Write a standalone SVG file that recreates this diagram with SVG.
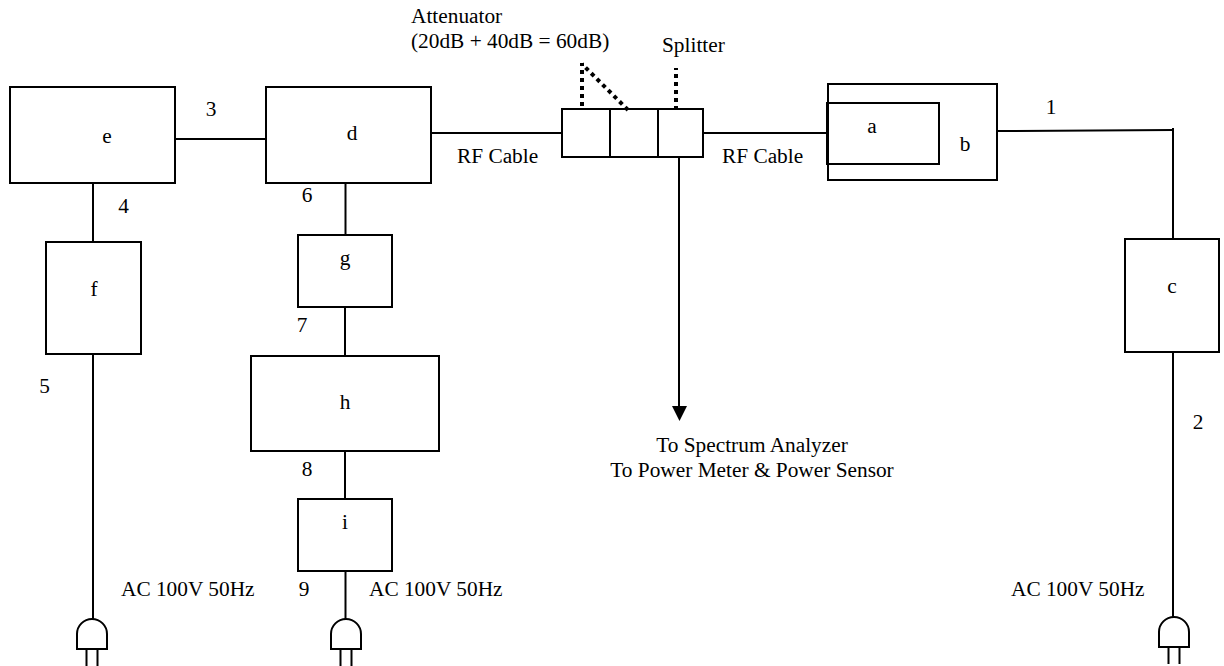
<svg xmlns="http://www.w3.org/2000/svg" width="1224" height="666" viewBox="0 0 1224 666">
<defs>
<style>
rect.n{fill:none;stroke:#000;stroke-width:2}
.c line{fill:none;stroke:#000;stroke-width:2}
.c line.dot{stroke-width:4;stroke-dasharray:4 4}
.c path{fill:#000;stroke:none}
text{font-family:"Liberation Serif","Times New Roman",serif;font-size:21.33px;fill:#000}
.m{text-anchor:middle}
</style>
<symbol id="plug" overflow="visible"><path d="M-15,15V0A15,15 0 0 1 15,0V15ZM-5.500,15V32M5.500,15V32" fill="none" stroke="#000" stroke-width="2"/></symbol>
</defs>
<rect width="1224" height="666" fill="#fff"/>
<g class="c" id="connectors">
<line x1="175" y1="139" x2="266" y2="139"/>
<line x1="93" y1="183" x2="93" y2="242"/>
<line x1="93" y1="354" x2="93" y2="619"/>
<line x1="345.500" y1="183" x2="345.500" y2="235"/>
<line x1="345" y1="307" x2="345" y2="356"/>
<line x1="345" y1="451" x2="345" y2="499"/>
<line x1="345.500" y1="571" x2="345.500" y2="619"/>
<line x1="431" y1="133" x2="562" y2="133"/>
<line x1="704" y1="133" x2="827" y2="133"/>
<line x1="679" y1="157" x2="679" y2="410"/>
<path d="M672,406H687L679.500,421Z"/>
<line x1="997" y1="131" x2="1173" y2="130"/>
<line x1="1173" y1="128" x2="1173" y2="239"/>
<line x1="1173" y1="352" x2="1173" y2="617"/>
<line class="dot" x1="582" y1="106" x2="582" y2="63"/>
<line class="dot" x1="628" y1="110" x2="582" y2="64"/>
<line class="dot" x1="676" y1="110" x2="676" y2="68"/>
</g>
<g id="e"><rect class="n" x="10" y="87" width="165" height="96"/><text class="m" x="107" y="143">e</text></g>
<g id="d"><rect class="n" x="266" y="87" width="165" height="96"/><text class="m" x="352" y="140">d</text></g>
<g id="f"><rect class="n" x="46" y="242" width="95" height="112"/><text class="m" x="94" y="296">f</text></g>
<g id="g"><rect class="n" x="298" y="235" width="94" height="72"/><text class="m" x="345" y="265">g</text></g>
<g id="h"><rect class="n" x="251" y="356" width="188" height="95"/><text class="m" x="345" y="409">h</text></g>
<g id="i"><rect class="n" x="298" y="499" width="94" height="72"/><text class="m" x="345" y="529">i</text></g>
<g id="attenuator-1"><rect class="n" x="562" y="109" width="48" height="48"/></g>
<g id="attenuator-2"><rect class="n" x="610" y="109" width="48" height="48"/></g>
<g id="splitter"><rect class="n" x="658" y="109" width="45" height="48"/></g>
<g id="b"><rect class="n" x="828" y="84" width="169" height="96"/><text class="m" x="965" y="151">b</text></g>
<g id="a"><rect class="n" x="827" y="103" width="112" height="61"/><text class="m" x="872" y="133">a</text></g>
<g id="c"><rect class="n" x="1125" y="239" width="94" height="113"/><text class="m" x="1172" y="293">c</text></g>
<g id="plug-1"><use href="#plug" x="92" y="634"/></g>
<g id="plug-2"><use href="#plug" x="346" y="634"/></g>
<g id="plug-3"><use href="#plug" x="1174" y="632"/></g>
<g id="labels">
<text x="411" y="23">Attenuator</text>
<text x="411" y="48">(20dB + 40dB = 60dB)</text>
<text x="662" y="52">Splitter</text>
<text class="m" x="211" y="116">3</text>
<text class="m" x="1051" y="114">1</text>
<text class="m" x="307" y="202">6</text>
<text class="m" x="123.500" y="213">4</text>
<text class="m" x="302" y="332">7</text>
<text class="m" x="44.500" y="393">5</text>
<text class="m" x="307" y="476">8</text>
<text class="m" x="1198" y="429">2</text>
<text class="m" x="304" y="596">9</text>
<text x="457" y="163">RF Cable</text>
<text x="722" y="163">RF Cable</text>
<text class="m" x="752" y="452">To Spectrum Analyzer</text>
<text class="m" x="752" y="477">To Power Meter &amp; Power Sensor</text>
<text x="121" y="596">AC 100V 50Hz</text>
<text x="369" y="596">AC 100V 50Hz</text>
<text x="1011" y="596">AC 100V 50Hz</text>
</g>
</svg>
